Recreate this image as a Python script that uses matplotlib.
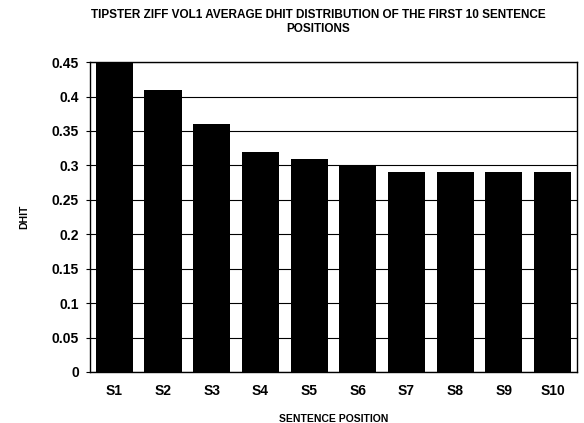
import matplotlib
matplotlib.use("Agg")
import matplotlib.pyplot as plt
import numpy as np

# data
positions = ['S1', 'S2', 'S3', 'S4', 'S5', 'S6', 'S7', 'S8', 'S9', 'S10']
dhit = [0.45, 0.41, 0.36, 0.32, 0.31, 0.30, 0.29, 0.29, 0.29, 0.29]
yticks = [0, 0.05, 0.1, 0.15, 0.2, 0.25, 0.3, 0.35, 0.4, 0.45]
ytickLabels = ['0', '0.05', '0.1', '0.15', '0.2', '0.25', '0.3', '0.35', '0.4', '0.45']

plt.rcParams['font.family'] = ['Liberation Sans', 'DejaVu Sans']
plt.rcParams['font.weight'] = 'bold'

fig = plt.figure(figsize=(5.84, 4.23), dpi=100)
ax = fig.add_axes([0.154, 0.1206, 0.834, 0.7325])

x = np.arange(len(positions))
ax.bar(x, dhit, width=0.76, color='black', zorder=3)

# axis limits and ticks
ax.set_xlim(-0.5, len(positions) - 0.5)
ax.set_ylim(0, 0.45)
ax.set_yticks(yticks)
ax.set_yticklabels(ytickLabels, fontsize=10, fontweight='bold')
ax.set_xticks(x)
ax.set_xticklabels(positions, fontsize=10, fontweight='bold')
ax.tick_params(axis='x', length=0, pad=9)
ax.tick_params(axis='y', length=3, width=0.8, pad=5)

# horizontal grid
ax.yaxis.grid(True, color='black', linewidth=0.8)
ax.set_axisbelow(True)
for sp in ax.spines.values():
    sp.set_linewidth(1.0)

ax.set_xlabel('SENTENCE POSITION', fontsize=7.5, fontweight='bold', labelpad=11)
ax.set_ylabel('DHIT', fontsize=7.5, fontweight='bold', labelpad=16)
fig.suptitle('TIPSTER ZIFF VOL1 AVERAGE DHIT DISTRIBUTION OF THE FIRST 10 SENTENCE\nPOSITIONS',
             fontsize=8.5, fontweight='bold', x=0.545, y=0.978)

plt.savefig('out.png', dpi=100)
plt.close()
